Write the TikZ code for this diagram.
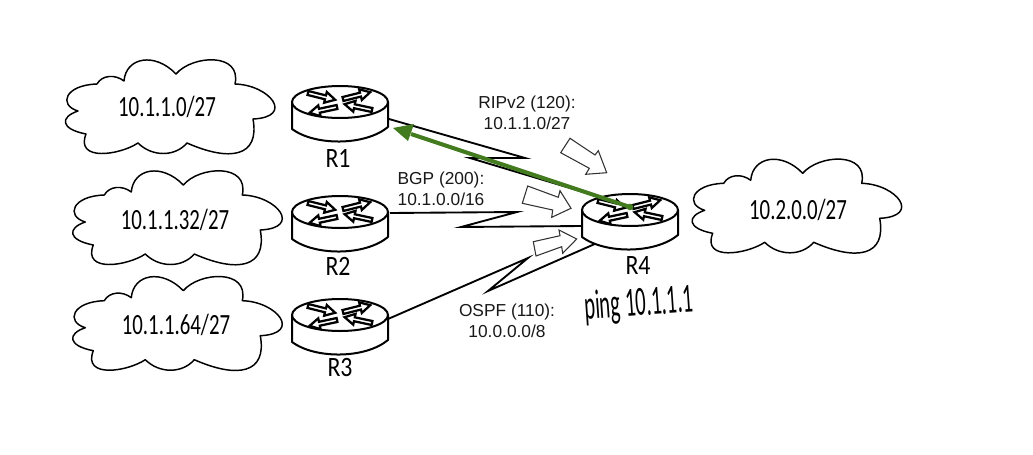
\documentclass[tikz,border=0pt]{standalone}
\usepackage{fontspec}
\setmainfont{Liberation Sans}
\newfontfamily\handfont{Carlito}
\newcommand{\handtext}[3]{\scalebox{#2}[1]{\fontsize{#1}{#1}\handfont #3}}
\definecolor{pathgreen}{RGB}{66,124,30}
\tikzset{
  x=0.75pt,y=-0.75pt,
  cloudline/.style={draw=black,line width=1.1pt,line join=round,fill=white},
  routerline/.style={draw=black,line width=1.5pt,line join=round,fill=white},
  wirelink/.style={draw=black,line width=1.4pt,line join=miter,miter limit=20},
  hollow/.style={draw=black!80,line width=0.8pt,fill=white,line join=miter},
  smallarrow/.style={draw=black,line width=1.7pt,fill=white,line join=miter},
  greenarrow/.style={draw=pathgreen,line width=3pt},
  greenhead/.style={fill=pathgreen,draw=none},
  routelabel/.style={align=center,font=\fontsize{13}{15.5}\selectfont,inner sep=0pt,text=black!90},
  handlabel/.style={inner sep=0pt},
  pics/cloud/.style={code={
    \draw[cloudline] (-46,-26) .. controls (-44,-50) and (-15,-55) .. (6,-33)
      .. controls (22,-52) and (72,-55) .. (65,-23)
      .. controls (100,-22) and (125,10) .. (83,12)
      .. controls (90,50) and (60,55) .. (17,36)
      .. controls (5,50) and (-18,50) .. (-32,36)
      .. controls (-50,48) and (-95,55) .. (-84,27)
      .. controls (-110,22) and (-110,10) .. (-92,4)
      .. controls (-112,-2) and (-105,-22) .. (-73,-23)
      .. controls (-68,-32) and (-55,-33) .. (-46,-26) -- cycle;
  }},
  pics/router/.style={code={
    \draw[routerline] (-48,0) -- (-48,27) .. controls (-25,44) and (25,44) .. (48,25) -- (48,0);
    \draw[routerline] (0,0) ellipse [x radius=36pt,y radius=12pt];
    \foreach \px/\py/\ang in {-32/-9/-14,3/-3/14,-3/5/192,32/8/168}{
      \draw[smallarrow,shift={(\px,\py)},rotate=\ang]
        (0,-2) -- (18,-2) -- (18,-5.5) -- (28,0) -- (18,5.5) -- (18,2) -- (0,2) -- cycle;
    }
  }}
}
\begin{document}
\begin{tikzpicture}
\useasboundingbox[fill=white] (0,0) rectangle (1033,454);

% clouds
\pic at (170,107) {cloud};
\pic at (177.3,218) {cloud};
\pic at (177.3,323.7) {cloud};
\pic at (796.7,206.3) {cloud};
\node[handlabel] (net1) at (167,107) {\handtext{22pt}{.71}{10.1.1.0/27}};
\node[handlabel] (net2) at (175,220) {\handtext{22pt}{.71}{10.1.1.32/27}};
\node[handlabel] (net3) at (176,325) {\handtext{22pt}{.71}{10.1.1.64/27}};
\node[handlabel] (net4) at (798,210) {\handtext{22pt}{.71}{10.2.0.0/27}};

% zigzag links
\coordinate (r1port) at (389,119);
\coordinate (r2port) at (390,213);
\coordinate (r3port) at (388,319);
\coordinate (r4a) at (600,197);
\coordinate (r4b) at (582,226);
\coordinate (r4c) at (597,243);
\coordinate (z1a) at (525,158);
\coordinate (z1b) at (470,158);
\coordinate (z2a) at (517,212);
\coordinate (z2b) at (461,227);
\coordinate (z3a) at (528,258);
\coordinate (z3b) at (488,291);
\draw[wirelink] (r1port) -- (z1a) -- (z1b) -- (r4a);
\draw[wirelink] (r2port) -- (z2a) -- (z2b) -- (r4b);
\draw[wirelink] (r3port) -- (z3a) -- (z3b) -- (r4c);

% routers
\pic at (340,102) {router};
\pic at (340,212) {router};
\pic at (340,315) {router};
\pic at (630,210) {router};

\node[handlabel] (r1) at (338,158) {\handtext{21pt}{.85}{R1}};
\node[handlabel] (r2) at (338,266) {\handtext{21pt}{.85}{R2}};
\node[handlabel] (r3) at (340,368) {\handtext{21pt}{.85}{R3}};
\node[handlabel] (r4) at (638,266) {\handtext{21pt}{.85}{R4}};
\node[handlabel,rotate=4] (ping) at (639,305) {\handtext{31pt}{.5}{ping 10.1.1.1}};

% block arrows
\draw[hollow] (570,138.3) -- (595,155) -- (598.3,150.7) -- (606.7,172.7) -- (585.7,174.3) -- (589.3,168.3) -- (560.7,152.7) -- cycle;
\draw[hollow] (527.7,186) -- (558.3,197.3) -- (560,190.7) -- (571,208.3) -- (551.7,217.3) -- (552.7,210) -- (522.3,203.3) -- cycle;
\draw[hollow] (533.3,241.7) -- (560,235.7) -- (559,230) -- (576.7,239) -- (562.7,253.3) -- (561.7,246.7) -- (536,256) -- cycle;

% route labels
\node[routelabel] (rip) at (527,113) {RIPv2 (120):\\10.1.1.0/27};
\node[routelabel] (bgp) at (441,189) {BGP (200):\\10.1.0.0/16};
\node[routelabel] (ospf) at (507,321) {OSPF (110):\\10.0.0.0/8};

% green path
\coordinate (greenstart) at (630,207);
\coordinate (greentip) at (393,128);
\coordinate (greenneck) at (411,134);
\draw[greenarrow] (greenstart) -- (greenneck);
\fill[greenhead] (greentip) -- (408,141) -- (414,124) -- cycle;
\fill[greenhead] (greenstart) circle [radius=2.5pt];
\end{tikzpicture}
\end{document}
